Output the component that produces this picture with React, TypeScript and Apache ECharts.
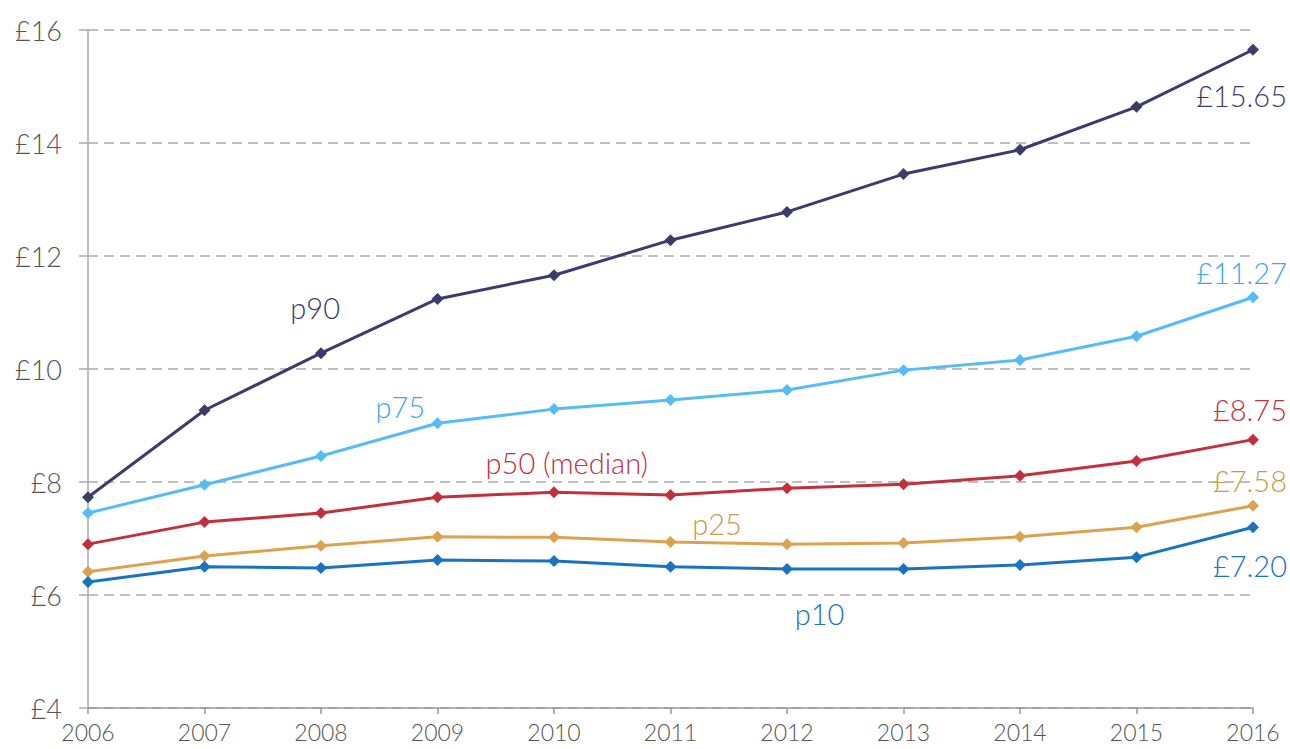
import React, { useEffect, useRef } from "react";
import * as echarts from "echarts";

const years = ["2006", "2007", "2008", "2009", "2010", "2011", "2012", "2013", "2014", "2015", "2016"];
const p90 = [7.73, 9.27, 10.28, 11.24, 11.66, 12.28, 12.78, 13.45, 13.88, 14.64, 15.65];
const p75 = [7.45, 7.95, 8.46, 9.04, 9.29, 9.45, 9.63, 9.98, 10.16, 10.58, 11.27];
const p50 = [6.9, 7.29, 7.45, 7.73, 7.82, 7.77, 7.89, 7.96, 8.11, 8.37, 8.75];
const p25 = [6.41, 6.69, 6.87, 7.03, 7.02, 6.94, 6.9, 6.92, 7.03, 7.2, 7.58];
const p10 = [6.23, 6.5, 6.48, 6.62, 6.6, 6.5, 6.46, 6.46, 6.53, 6.67, 7.2];
const yTicks = [4, 6, 8, 10, 12, 14, 16];

const FONT = "Lato, 'Open Sans', sans-serif";

const seriesDefs = [
  { name: "p90", data: p90, color: "#3b3c6c", text: "#3b3c6c", label: "p90", labelAt: [1.95, 11.08], endDy: 46 },
  { name: "p75", data: p75, color: "#56bcf6", text: "#3aa9ee", label: "p75", labelAt: [2.68, 9.33], endDy: -25 },
  { name: "p50", data: p50, color: "#c3303d", text: "#c3303d", label: "p50 (median)", labelAt: [4.11, 8.34], endDy: -30 },
  { name: "p25", data: p25, color: "#dba250", text: "#c99a4a", label: "p25", labelAt: [5.4, 7.26], endDy: -25 },
  { name: "p10", data: p10, color: "#1a72c2", text: "#1a72c2", label: "p10", labelAt: [6.28, 5.68], endDy: 38 },
];

export default function App() {
  const ref = useRef<HTMLDivElement>(null);
  useEffect(() => {
    const chart = echarts.init(ref.current!, null, { renderer: "svg" });
    chart.setOption({
      animation: false,
      grid: { left: 88, right: 37, top: 30, bottom: 41, containLabel: false },
      xAxis: {
        type: "category",
        data: years,
        boundaryGap: false,
        axisLine: { show: true, lineStyle: { color: "#999", width: 1.5 } },
        axisTick: { show: true, length: 6, alignWithLabel: true, lineStyle: { color: "#999", width: 1.5 } },
        axisLabel: { color: "#555", fontSize: 23, fontWeight: 300, fontFamily: FONT, margin: 12 },
        splitLine: { show: false },
      },
      yAxis: {
        type: "value",
        min: 4,
        max: 16,
        interval: 2,
        axisLine: { show: true, lineStyle: { color: "#aaa", width: 1.5 } },
        axisTick: { show: true, length: 9, lineStyle: { color: "#aaa", width: 1.5 } },
        axisLabel: {
          color: "#555",
          fontSize: 27,
          fontWeight: 300,
          fontFamily: FONT,
          margin: 26,
          formatter: (v: number) => (yTicks.includes(v) ? "£" + v : ""),
        },
        splitLine: { show: true, lineStyle: { color: "#aaa", width: 1.5, type: [10, 6] } },
      },
      series: seriesDefs.map((s) => ({
        name: s.name,
        type: "line",
        data: s.data,
        symbol: "diamond",
        symbolSize: 12,
        lineStyle: { color: s.color, width: 3 },
        itemStyle: { color: s.color },
        z: 3,
      })),
    });

    const last = years.length - 1;
    const [x0] = chart.convertToPixel({ gridIndex: 0 }, [0, 4]);
    const [x1] = chart.convertToPixel({ gridIndex: 0 }, [1, 4]);
    const step = x1 - x0;
    const graphics: any[] = [];
    seriesDefs.forEach((s) => {
      const [, ly] = chart.convertToPixel({ gridIndex: 0 }, [0, s.labelAt[1]]);
      const lx = x0 + s.labelAt[0] * step;
      graphics.push({
        type: "text",
        x: lx,
        y: ly,
        style: {
          text: s.label,
          fill: s.text,
          font: `300 29px ${FONT}`,
          textAlign: "center",
          textVerticalAlign: "middle",
        },
        z: 10,
      });
      const [ex, ey] = chart.convertToPixel({ gridIndex: 0 }, [last, s.data[last]]);
      graphics.push({
        type: "text",
        x: ex + 34,
        y: ey + s.endDy,
        style: {
          text: "£" + s.data[last].toFixed(2),
          fill: s.text,
          font: `300 29px ${FONT}`,
          textAlign: "right",
          textVerticalAlign: "middle",
        },
        z: 10,
      });
    });
    chart.setOption({ graphic: graphics });

    return () => chart.dispose();
  }, []);
  return (
    <div
      ref={ref}
      style={{ position: "fixed", left: 0, top: 0, width: 1290, height: 749, background: "#fff" }}
    />
  );
}
